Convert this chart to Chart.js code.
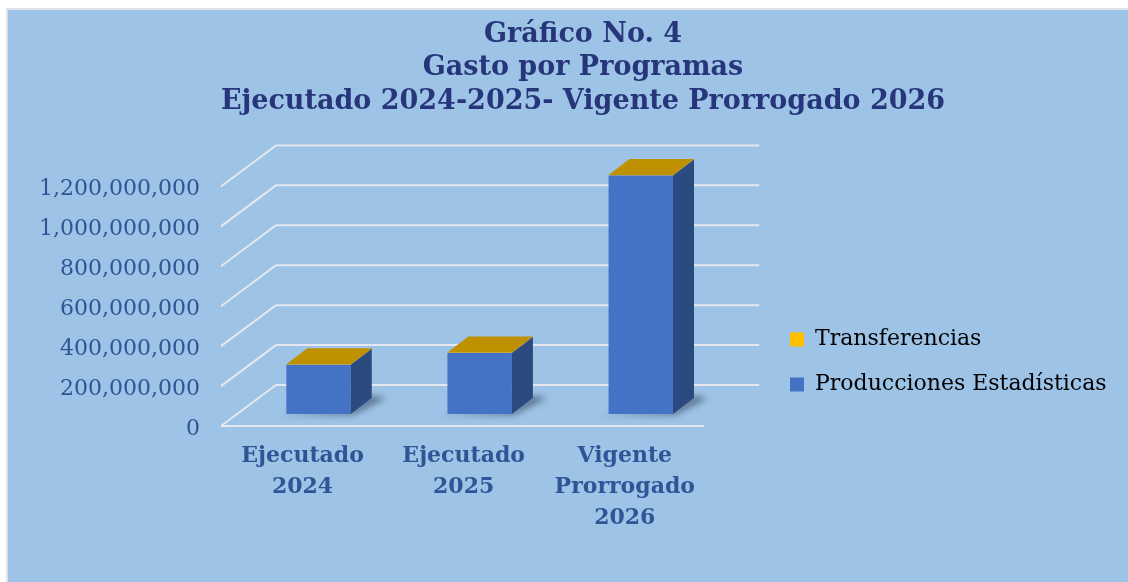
<!DOCTYPE html>
<html>
<head>
<meta charset="utf-8">
<script src="https://cdn.jsdelivr.net/npm/chart.js@4"></script>
<style>
  html, body { margin: 0; padding: 0; background: #fff; }
  #wrap {
    position: absolute; left: 6px; top: 8px;
    border-left: 2px solid #dde0e6; border-top: 2px solid #dde0e6;
    width: 1120px; height: 572px; background: #9dc3e6;
  }
  canvas { display: block; }
</style>
</head>
<body>
<div id="wrap"><canvas id="chart" width="1120" height="572"></canvas></div>
<script>
// data
const categories = [["Ejecutado", "2024"], ["Ejecutado", "2025"], ["Vigente", "Prorrogado", "2026"]];
const produccionesEstadisticas = [247000000, 306000000, 1195000000];
const transferencias = [1800000, 2100000, 2400000];
const yTicks = [0, 200000000, 400000000, 600000000, 800000000, 1000000000, 1200000000];

const BLUE = "#4472c4", BLUE_SIDE = "#2b4a80";
const GOLD = "#ffc000", GOLD_TOP = "#bf9000", GOLD_SIDE = "#8f6c00";
const GRID = "rgba(232,234,238,0.95)";

// 3d offsets, relative to the plane where the bar fronts sit
const FRONT = { dx: -17, dy: 12 };
const BACK = { dx: 38, dy: -29 };
const BAR_DEPTH = { dx: 21, dy: -16 };

const depth3d = {
  id: "depth3d",
  afterLayout(chart) {
    // put the legend where the original has it, right of the back wall
    const lg = chart.legend;
    lg.left = 782 - lg.options.labels.padding;
    lg.right = lg.left + 400;
    lg.width = 400;
    lg.top = 352 - 200;
    lg.bottom = 352 + 200;
  },
  beforeDatasetsDraw(chart) {
    const { ctx, chartArea: a, scales: { y } } = chart;
    ctx.save();
    ctx.strokeStyle = GRID;
    ctx.lineWidth = 2;
    y.ticks.forEach(t => {
      const py = y.getPixelForValue(t.value);
      ctx.beginPath();
      ctx.moveTo(a.left + FRONT.dx, py + FRONT.dy);
      ctx.lineTo(a.left + BACK.dx, py + BACK.dy);
      ctx.lineTo(a.right + BACK.dx, py + BACK.dy);
      ctx.stroke();
    });
    const p0 = y.getPixelForValue(0);
    ctx.beginPath();
    ctx.moveTo(a.left + FRONT.dx, p0 + FRONT.dy);
    ctx.lineTo(a.right + FRONT.dx, p0 + FRONT.dy);
    ctx.stroke();

    // soft shadows under the bars
    ctx.filter = "blur(3px)";
    ctx.fillStyle = "rgba(35,45,70,0.55)";
    chart.getDatasetMeta(0).data.forEach(bar => {
      const l = bar.x - bar.width / 2, r = bar.x + bar.width / 2, b = bar.base;
      ctx.beginPath();
      ctx.moveTo(l - 8, b + 1);
      ctx.lineTo(r + 2, b + 1);
      ctx.lineTo(r + BAR_DEPTH.dx + 14, b + BAR_DEPTH.dy);
      ctx.lineTo(r + BAR_DEPTH.dx, b + BAR_DEPTH.dy - 2);
      ctx.lineTo(r, b - 4);
      ctx.closePath();
      ctx.fill();
    });
    ctx.restore();
  },
  afterDatasetsDraw(chart) {
    const { ctx } = chart;
    const sides = [BLUE_SIDE, GOLD_SIDE];
    const n = chart.data.datasets.length;
    ctx.save();
    for (let d = 0; d < n; d++) {
      chart.getDatasetMeta(d).data.forEach(bar => {
        const l = bar.x - bar.width / 2, r = bar.x + bar.width / 2;
        const top = Math.min(bar.y, bar.base), bot = Math.max(bar.y, bar.base);
        ctx.fillStyle = sides[d];
        ctx.beginPath();
        ctx.moveTo(r, top);
        ctx.lineTo(r + BAR_DEPTH.dx, top + BAR_DEPTH.dy);
        ctx.lineTo(r + BAR_DEPTH.dx, bot + BAR_DEPTH.dy);
        ctx.lineTo(r, bot);
        ctx.closePath();
        ctx.fill();
        if (d === n - 1) {
          ctx.fillStyle = GOLD_TOP;
          ctx.beginPath();
          ctx.moveTo(l, top);
          ctx.lineTo(l + BAR_DEPTH.dx, top + BAR_DEPTH.dy);
          ctx.lineTo(r + BAR_DEPTH.dx, top + BAR_DEPTH.dy);
          ctx.lineTo(r, top);
          ctx.closePath();
          ctx.fill();
        }
      });
    }
    ctx.restore();
  }
};

const ctx = document.getElementById("chart").getContext("2d");

new Chart(ctx, {
  type: "bar",
  data: {
    labels: categories,
    datasets: [
      {
        label: "Producciones Estadísticas",
        data: produccionesEstadisticas,
        backgroundColor: BLUE,
        borderWidth: 0,
      },
      {
        label: "Transferencias",
        data: transferencias,
        backgroundColor: GOLD,
        borderWidth: 0,
      },
    ],
  },
  options: {
    responsive: false,
    animation: false,
    layout: { padding: { left: 30, right: 0, top: 0, bottom: 0 } },
    datasets: { bar: { categoryPercentage: 1, barPercentage: 0.4 } },
    scales: {
      x: {
        stacked: true,
        grid: { display: false, drawTicks: false },
        border: { display: false },
        ticks: {
          color: "#2f5597",
          font: { family: "DejaVu Serif", size: 22, weight: "bold", lineHeight: 1.41 },
          padding: 27,
          labelOffset: -16,
          maxRotation: 0,
          autoSkip: false,
        },
        afterFit(scale) { scale.height = 168; },
      },
      y: {
        stacked: true,
        min: 0,
        max: 1200000000,
        grid: { display: false, drawTicks: false },
        border: { display: false },
        afterBuildTicks(scale) { scale.ticks = yTicks.map(v => ({ value: v })); },
        ticks: {
          color: "#2f5597",
          font: { family: "DejaVu Serif", size: 22 },
          padding: 38,
          labelOffset: 15,
          callback: v => v.toLocaleString("en-US"),
        },
        afterFit(scale) { scale.width = 200; },
      },
      // empty spacer on the right: keeps the plot narrow, room for the legend
      spacer: {
        type: "linear",
        position: "right",
        grid: { display: false, drawTicks: false },
        border: { display: false },
        ticks: { display: false },
        afterFit(scale) { scale.width = 225; },
      },
    },
    plugins: {
      title: {
        display: true,
        text: ["Gráfico No. 4", "Gasto por Programas", "Ejecutado 2024-2025- Vigente Prorrogado 2026"],
        color: "#27367a",
        font: { family: "DejaVu Serif", size: 27, weight: "bold", lineHeight: 1.24 },
        padding: { top: 8, bottom: 56 },
      },
      legend: {
        position: "right",
        reverse: true,
        labels: {
          color: "#000",
          boxWidth: 14,
          boxHeight: 14,
          padding: 23,
          font: { family: "DejaVu Serif", size: 22 },
        },
      },
      tooltip: { enabled: false },
    },
  },
  plugins: [depth3d],
});
</script>
</body>
</html>
